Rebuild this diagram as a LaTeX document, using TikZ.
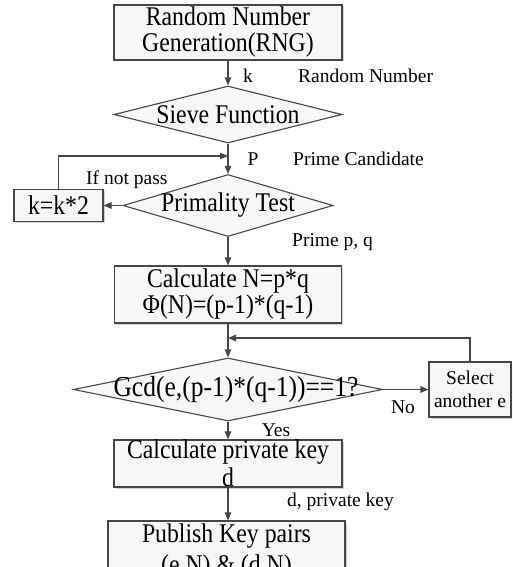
\documentclass[tikz,border=0pt]{standalone}
\usepackage{fontspec}
\setmainfont{Liberation Serif}
\newfontfamily\boxfont[FakeStretch=0.88]{Liberation Serif}
\usetikzlibrary{arrows.meta,shapes.geometric,shadows}

\tikzset{
  line/.style={draw=black!72, line width=1.1pt},
  flow/.style={line, -{Triangle[length=8pt,width=6.5pt]}},
  box/.style={rectangle, draw=black!72, line width=1.1pt, fill=black!3,
    inner sep=0pt, align=center, font=\boxfont\fontsize{27}{26}\selectfont,
    drop shadow={shadow xshift=1.5pt, shadow yshift=-1.5pt, fill=black!35}},
  dia/.style={diamond, draw=black!72, line width=1.1pt, fill=black!3, inner sep=0pt},
  txt/.style={font=\boxfont\fontsize{27}{26}\selectfont, inner sep=0pt},
  lab/.style={font=\fontsize{19.5}{20}\selectfont, inner sep=0pt},
}

\begin{document}
\begin{tikzpicture}[x=1pt,y=-1pt]
\useasboundingbox (0,0) rectangle (512,567);
\clip (0,0) rectangle (512,567);

% process steps and decisions
\node[box, minimum width=228pt, minimum height=55pt] (rng) at (228,32.5) {Random Number\\Generation(RNG)};
\node[dia, minimum width=228pt, minimum height=57pt] (sieve) at (228,114.5) {};
\node[txt] at (sieve) {Sieve Function};
\node[dia, minimum width=210pt, minimum height=62pt] (prim) at (228,205.5) {};
\node[txt] at (prim) {Primality Test};
\node[box, minimum width=89pt, minimum height=32pt] (kbox) at (58.5,205.5) {k=k*2};
\node[box, minimum width=227pt, minimum height=57pt] (calc) at (228,294.5) {Calculate N=p*q\\Φ(N)=(p-1)*(q-1)};
\node[dia, minimum width=309pt, minimum height=63pt] (gcd) at (228,389.5) {};
\node[txt, font=\boxfont\fontsize{29}{26}\selectfont] at (236,389.5) {Gcd(e,(p-1)*(q-1))==1?};
\node[box, minimum width=82pt, minimum height=55pt, font=\fontsize{19.5}{23}\selectfont] (sel) at (470,389.5) {Select\\another e};
\node[box, minimum width=228pt, minimum height=47pt, font=\boxfont\fontsize{27}{28}\selectfont] (priv) at (228,463.5) {Calculate private key\\d};
\node[box, minimum width=237pt, minimum height=60pt, font=\boxfont\fontsize{27}{31}\selectfont] (pub) at (226.5,551) {Publish Key pairs\\(e,N) \& (d,N)};

% loop-back junctions on the main axis
\coordinate (pin) at (228,156);
\coordinate (gin) at (228,338);

% connectors
\draw[flow] (rng) -- (sieve);
\draw[flow] (sieve) -- (prim);
\draw[flow] (prim) -- (kbox);
\draw[flow] (kbox.north) |- (pin);
\draw[flow] (prim) -- (calc);
\draw[flow] (calc) -- (gcd);
\draw[flow] (gcd) -- (sel);
\draw[flow] (sel.north) |- (gin);
\draw[flow] (gcd) -- (priv);
\draw[flow] (priv.south) -- (priv.south |- pub.north);

% labels
\node[lab] at (248,76) {k};
\node[lab, anchor=west] at (298,76) {Random Number};
\node[lab] at (253,159) {P};
\node[lab, anchor=west] at (293,159) {Prime Candidate};
\node[lab, anchor=west] at (86,180) {If not pass};
\node[lab, anchor=west] at (292,242) {Prime p, q};
\node[lab] at (403,407) {No};
\node[lab] at (276,430) {Yes};
\node[lab, anchor=west] at (287,502) {d, private key};
\end{tikzpicture}
\end{document}
